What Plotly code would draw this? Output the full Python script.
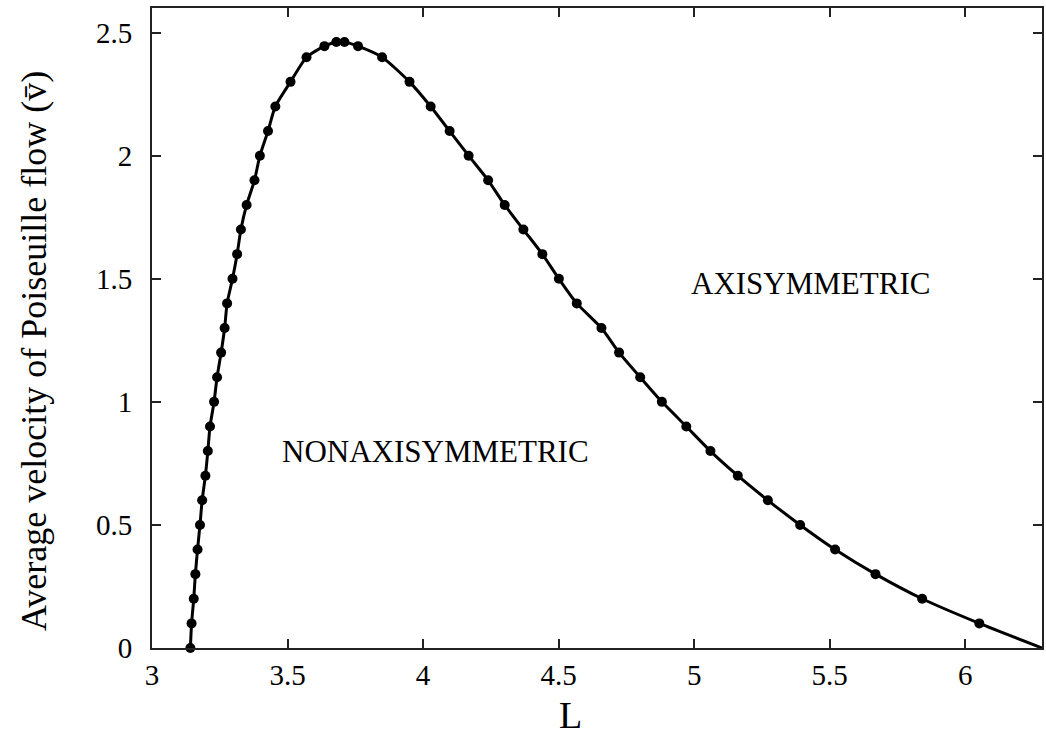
import plotly.graph_objects as go

# Data
L_vals = [3.1416, 3.146, 3.154, 3.160, 3.168, 3.177, 3.185, 3.197, 3.206, 3.214,
          3.229, 3.240, 3.255, 3.268, 3.277, 3.297, 3.314, 3.328, 3.349, 3.378,
          3.398, 3.428, 3.455, 3.511, 3.570, 3.636, 3.680, 3.710, 3.760, 3.849,
          3.950, 4.028, 4.098, 4.168, 4.240, 4.301, 4.370, 4.440, 4.501, 4.567,
          4.658, 4.723, 4.801, 4.881, 4.971, 5.060, 5.161, 5.272, 5.391, 5.520,
          5.669, 5.841, 6.052, 6.2832]
v_vals = [0.0, 0.1, 0.2, 0.3, 0.4, 0.5, 0.6, 0.7, 0.8, 0.9,
          1.0, 1.1, 1.2, 1.3, 1.4, 1.5, 1.6, 1.7, 1.8, 1.9,
          2.0, 2.1, 2.2, 2.3, 2.4, 2.445, 2.462, 2.462, 2.445, 2.4,
          2.3, 2.2, 2.1, 2.0, 1.9, 1.8, 1.7, 1.6, 1.5, 1.4,
          1.3, 1.2, 1.1, 1.0, 0.9, 0.8, 0.7, 0.6, 0.5, 0.4,
          0.3, 0.2, 0.1, 0.0]

x_ticks = [3, 3.5, 4, 4.5, 5, 5.5, 6]
x_ticklabels = ["3", "3.5", "4", "4.5", "5", "5.5", "6"]
y_ticks = [0, 0.5, 1, 1.5, 2, 2.5]
y_ticklabels = ["0", "0.5", "1", "1.5", "2", "2.5"]

FONT = "Liberation Serif, Times New Roman, serif"

fig = go.Figure()
fig.add_trace(go.Scatter(
    x=L_vals, y=v_vals, mode="lines",
    line=dict(color="black", width=3, shape="spline", smoothing=0.6),
    hoverinfo="skip", showlegend=False))
fig.add_trace(go.Scatter(
    x=L_vals[:-1], y=v_vals[:-1], mode="markers",
    marker=dict(color="black", size=10),
    cliponaxis=False, showlegend=False))

fig.add_annotation(x=4.045, y=0.8, text="NONAXISYMMETRIC", showarrow=False,
                   font=dict(family=FONT, size=31, color="black"))
fig.add_annotation(x=5.43, y=1.48, text="AXISYMMETRIC", showarrow=False,
                   font=dict(family=FONT, size=31, color="black"))

# axis titles as annotations (placed like the reference)
fig.add_annotation(xref="paper", yref="paper", x=0, y=0.464, xshift=-118,
                   text="Average velocity of Poiseuille flow (v\u0304)",
                   textangle=-90, showarrow=False,
                   xanchor="center", yanchor="middle",
                   font=dict(family=FONT, size=36, color="black"))
fig.add_annotation(xref="paper", yref="paper", x=0.470, y=-0.105,
                   text="L", showarrow=False,
                   xanchor="center", yanchor="middle",
                   font=dict(family=FONT, size=38, color="black"))

axis_common = dict(
    showline=True, linecolor="#222", linewidth=2, mirror="ticks",
    ticks="inside", ticklen=9, tickwidth=1.5, tickcolor="#222",
    showgrid=False, zeroline=False,
    tickfont=dict(family=FONT, size=29, color="black"),
)

fig.update_layout(
    width=1046, height=740,
    margin=dict(l=152, r=2, t=8, b=92),
    plot_bgcolor="white", paper_bgcolor="white",
    xaxis=dict(range=[3, 6.2832], tickvals=x_ticks, ticktext=x_ticklabels,
               **axis_common),
    yaxis=dict(range=[0, 2.6], tickvals=y_ticks, ticktext=y_ticklabels,
               ticklabelstandoff=12,
               **axis_common),
)

fig.write_html("out.html")
